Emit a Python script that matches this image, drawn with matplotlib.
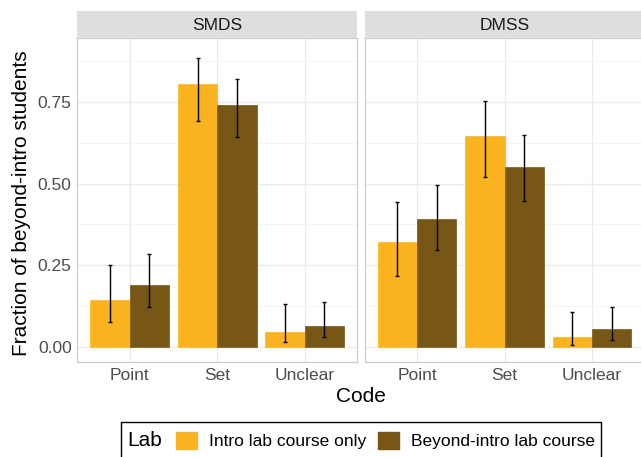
import numpy as np
import matplotlib
matplotlib.use("Agg")
import matplotlib.pyplot as plt
from matplotlib.patches import Patch, Rectangle

# --- data ---
codes = ["Point", "Set", "Unclear"]
panels = ["SMDS", "DMSS"]
labs = ["Intro lab course only", "Beyond-intro lab course"]
colors = ["#FBB41F", "#785716"]

smds_intro = [0.143, 0.806, 0.044]
smds_intro_lo = [0.076, 0.692, 0.014]
smds_intro_hi = [0.252, 0.887, 0.131]
smds_beyond = [0.188, 0.742, 0.064]
smds_beyond_lo = [0.121, 0.643, 0.029]
smds_beyond_hi = [0.284, 0.822, 0.138]

dmss_intro = [0.321, 0.646, 0.030]
dmss_intro_lo = [0.217, 0.521, 0.006]
dmss_intro_hi = [0.445, 0.754, 0.107]
dmss_beyond = [0.392, 0.550, 0.053]
dmss_beyond_lo = [0.297, 0.447, 0.021]
dmss_beyond_hi = [0.497, 0.650, 0.123]

yticks = [0.0, 0.25, 0.50, 0.75]
ytick_labels = ["0.00", "0.25", "0.50", "0.75"]

plt.rcParams["font.family"] = ["Liberation Sans", "DejaVu Sans"]

W, H = 641, 457
fig = plt.figure(figsize=(W / 100, H / 100), dpi=100)

bottom = (H - 362.3) / H
top = (H - 38.3) / H
ph = top - bottom
pw = 280 / W
strip_h = 27.3 / H
lefts = [77.3 / W, 364.5 / W]

series = {
    "SMDS": [(smds_intro, smds_intro_lo, smds_intro_hi),
             (smds_beyond, smds_beyond_lo, smds_beyond_hi)],
    "DMSS": [(dmss_intro, dmss_intro_lo, dmss_intro_hi),
             (dmss_beyond, dmss_beyond_lo, dmss_beyond_hi)],
}

x = np.arange(len(codes))
bw = 0.45
for i, name in enumerate(panels):
    ax = fig.add_axes([lefts[i], bottom, pw, ph])
    ax.set_facecolor("white")
    for j, (vals, lo, hi) in enumerate(series[name]):
        vals = np.array(vals)
        err = [vals - np.array(lo), np.array(hi) - vals]
        ax.bar(x + (j - 0.5) * bw, vals, bw, color=colors[j],
               edgecolor=colors[j], linewidth=0.5, zorder=2)
        ax.errorbar(x + (j - 0.5) * bw, vals, yerr=err, fmt="none",
                    ecolor="black", elinewidth=1.0, capsize=1.6,
                    capthick=1.0, zorder=3)
    ax.set_xlim(-0.6, len(codes) - 1 + 0.6)
    ax.set_ylim(-0.048, 0.946)
    ax.set_xticks(x)
    ax.set_xticklabels(codes, fontsize=12.5, color="#4D4D4D")
    ax.set_yticks(yticks)
    ax.set_yticks([0.125, 0.375, 0.625, 0.875], minor=True)
    if i == 0:
        ax.set_yticklabels(ytick_labels, fontsize=12.5, color="#4D4D4D")
    else:
        ax.set_yticklabels([])
    ax.tick_params(axis="both", which="both", length=0, pad=4)
    ax.grid(True, which="major", color="#EBEBEB", linewidth=1.0, zorder=0)
    ax.grid(True, which="minor", axis="y", color="#F4F4F4", linewidth=0.6, zorder=0)
    ax.set_axisbelow(True)
    for sp in ax.spines.values():
        sp.set_color("#CCCCCC")
        sp.set_linewidth(0.9)

    # facet strip
    sax = fig.add_axes([lefts[i], top, pw, strip_h])
    sax.set_facecolor("#DEDEDE")
    sax.set_xticks([])
    sax.set_yticks([])
    for sp in sax.spines.values():
        sp.set_visible(False)
    sax.text(0.5, 0.48, name, ha="center", va="center", fontsize=12.5,
             color="#1A1A1A", transform=sax.transAxes)

fig.text(22 / W, 1 - 203 / H, "Fraction of beyond-intro students",
         rotation=90, ha="center", va="center", fontsize=15)
fig.text(361 / W, 1 - 397 / H, "Code", ha="center", va="center", fontsize=15)

# legend: title on the left, frame box
handles = [Patch(facecolor=c, edgecolor=c) for c in colors]
fig.legend(handles, labs, ncol=2, frameon=False, loc="center left",
           bbox_to_anchor=(176 / W, 1 - 440.5 / H), borderpad=0,
           borderaxespad=0, fontsize=12.5, handlelength=1.2,
           handleheight=1.2, handletextpad=0.7, columnspacing=0.7)
fig.text(127 / W, 1 - 440.5 / H, "Lab", ha="left", va="center", fontsize=15)
fig.patches.append(Rectangle((121 / W, -0.05), 479.5 / W, 0.05 + (H - 422) / H,
                             transform=fig.transFigure, fill=False,
                             edgecolor="black", linewidth=1.0))

fig.savefig("out.png", dpi=100)
